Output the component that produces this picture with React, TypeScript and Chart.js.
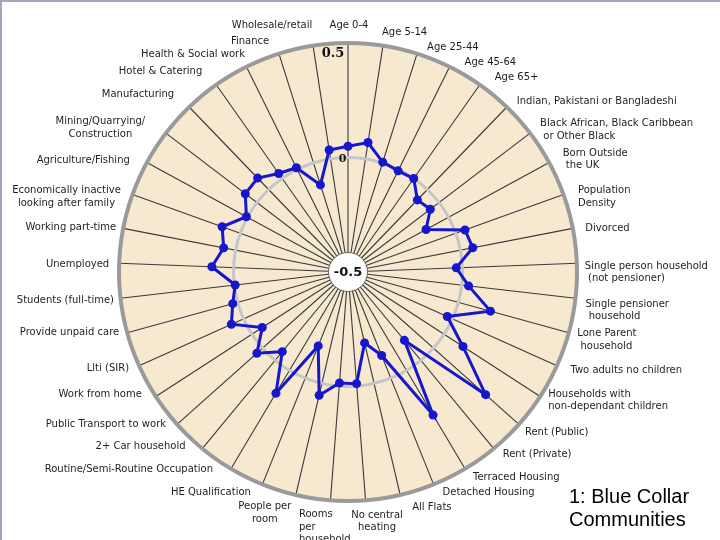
import React, { useEffect, useRef } from "react";
import { Chart, registerables } from "chart.js";

Chart.register(...registerables);

// ---- data ----
const CATEGORIES: string[][] = [
  ["Age 0-4"],
  ["Age 5-14"],
  ["Age 25-44"],
  ["Age 45-64"],
  ["Age 65+"],
  ["Indian, Pakistani or Bangladeshi"],
  ["Black African, Black Caribbean", " or Other Black"],
  ["Born Outside", " the UK"],
  ["Population", "Density"],
  ["Divorced"],
  ["Single person household", " (not pensioner)"],
  ["Single pensioner", " household"],
  ["Lone Parent", " household"],
  ["Two adults no children"],
  ["Households with", "non-dependant children"],
  ["Rent (Public)"],
  ["Rent (Private)"],
  ["Terraced Housing"],
  ["Detached Housing"],
  ["All Flats"],
  ["No central", "heating"],
  ["Rooms", "per", "household"],
  ["People per", "room"],
  ["HE Qualification"],
  ["Routine/Semi-Routine Occupation"],
  ["2+ Car household"],
  ["Public Transport to work"],
  ["Work from home"],
  ["Llti (SIR)"],
  ["Provide unpaid care"],
  ["Students (full-time)"],
  ["Unemployed"],
  ["Working part-time"],
  ["Economically inactive", "looking after family"],
  ["Agriculture/Fishing"],
  ["Mining/Quarrying/", "Construction"],
  ["Manufacturing"],
  ["Hotel & Catering"],
  ["Health & Social work"],
  ["Finance"],
  ["Wholesale/retail"],
];

const VALUES: number[] = [
  0.049, 0.072, 0.003, -0.007, -0.001, -0.063, -0.048, -0.112, 0.043, 0.055,
  -0.027, 0.03, 0.145, -0.025, 0.098, 0.305, -0.113, 0.227, -0.107, -0.182,
  -0.011, -0.014, 0.053, -0.152, 0.116, -0.049, 0.033, -0.054, 0.058, 0.022,
  -0.004, 0.095, 0.053, 0.084, 0.005, 0.064, 0.069, 0.026, 0.008, -0.101,
  0.039,
];

const TICKS: number[] = [-0.5, 0, 0.5];
const TICK_LABELS: string[] = ["-0.5", "0", "0.5"];
const TITLE: string[] = ["1: Blue Collar", "Communities"];

// ---- label layout (alignment, offset from spoke end) ----
type Align = "left" | "right" | "center";
const LABEL_LAYOUT: [Align, number, number][] = [
  ["center", 1, -18],
  ["left", -1, -13],
  ["left", 10, -6],
  ["left", 15, -4],
  ["left", 15, -7],
  ["left", 10, -6],
  ["left", 10, -3.5],
  ["left", 13.5, -3],
  ["left", 14.5, 2.5],
  ["left", 12.5, 0],
  ["left", 8, 9],
  ["left", 10, 12],
  ["left", 8.5, 7],
  ["left", 13.5, 5],
  ["left", 8, 4],
  ["left", 6, 8],
  ["left", 9, 6],
  ["left", 8, 8.5],
  ["left", 9, 8],
  ["left", 12, 12],
  ["center", 11.5, 21],
  ["left", -31.5, 27],
  ["center", -31, 18],
  ["right", -11.5, 8],
  ["right", -18, 0.5],
  ["right", -16.7, -2],
  ["right", -11, 0],
  ["right", -14, -2.5],
  ["right", -10, 2.6],
  ["right", -8, 0],
  ["right", -6.5, 2.4],
  ["right", -10, 1],
  ["right", -7, -1.4],
  ["center", -66, 2.4],
  ["right", -17, -2],
  ["center", -65.5, -5.5],
  ["right", -15, -13],
  ["right", -14, -13.7],
  ["right", -1.4, -12],
  ["left", -48, -12],
  ["left", -81.3, -20.4],
];

const radarDecor = {
  id: "radarDecor",
  beforeDatasetsDraw(chart: any) {
    const s = chart.scales.r;
    const ctx: CanvasRenderingContext2D = chart.ctx;
    const cx = s.xCenter;
    const cy = s.yCenter;
    const minV = TICKS[0];
    const midV = TICKS[1];
    const maxV = TICKS[2];
    ctx.save();
    // zero circle
    ctx.beginPath();
    ctx.arc(cx, cy, s.getDistanceFromCenterForValue(midV), 0, Math.PI * 2);
    ctx.strokeStyle = "#c6c6c6";
    ctx.lineWidth = 3;
    ctx.stroke();
    // outer ring
    ctx.beginPath();
    ctx.arc(cx, cy, s.getDistanceFromCenterForValue(maxV), 0, Math.PI * 2);
    ctx.strokeStyle = "#9a9a9a";
    ctx.lineWidth = 4;
    ctx.stroke();
    // centre disc
    ctx.beginPath();
    ctx.arc(cx, cy, 19.5, 0, Math.PI * 2);
    ctx.fillStyle = "#ffffff";
    ctx.fill();
    ctx.strokeStyle = "#666";
    ctx.lineWidth = 1;
    ctx.stroke();
    // tick labels
    ctx.fillStyle = "#111";
    ctx.textAlign = "center";
    ctx.textBaseline = "middle";
    ctx.font = "bold 13px 'DejaVu Sans'";
    ctx.fillText(TICK_LABELS[0], cx, cy + 1 + s.getDistanceFromCenterForValue(minV));
    ctx.font = "bold 11px 'DejaVu Serif'";
    ctx.fillText(TICK_LABELS[1], cx - 5.5, cy - s.getDistanceFromCenterForValue(midV) + 2);
    ctx.font = "bold 13px 'DejaVu Serif'";
    ctx.fillText(TICK_LABELS[2], cx - 15, cy - s.getDistanceFromCenterForValue(maxV) + 11);
    ctx.restore();
  },
  afterDraw(chart: any) {
    const s = chart.scales.r;
    const ctx: CanvasRenderingContext2D = chart.ctx;
    ctx.save();
    ctx.font = "10px 'DejaVu Sans'";
    ctx.fillStyle = "#1e1e1e";
    ctx.textBaseline = "middle";
    const lh = 12.5;
    CATEGORIES.forEach((lines, i) => {
      const p = s.getPointPosition(i, s.drawingArea);
      const [align, dx, dy] = LABEL_LAYOUT[i];
      ctx.textAlign = align;
      const x = p.x + dx;
      const yc = p.y + dy;
      lines.forEach((ln, k) => {
        ctx.fillText(ln, x, yc + (k - (lines.length - 1) / 2) * lh);
      });
    });
    ctx.restore();
  },
};

export default function App() {
  const ref = useRef<HTMLCanvasElement | null>(null);

  useEffect(() => {
    if (!ref.current) return;
    const chart = new Chart(ref.current, {
      type: "radar",
      data: {
        labels: CATEGORIES.map((l) => l.join(" ")),
        datasets: [
          {
            data: VALUES,
            borderColor: "#1616cc",
            backgroundColor: "#1616cc",
            borderWidth: 3,
            pointRadius: 4.5,
            pointBackgroundColor: "#1616cc",
            pointBorderColor: "#1616cc",
            pointBorderWidth: 0,
            fill: false,
            tension: 0,
          },
        ],
      },
      options: {
        responsive: false,
        animation: false,
        events: [],
        layout: { padding: { left: 119, right: 143, top: 43, bottom: 39 } },
        plugins: { legend: { display: false }, tooltip: { enabled: false } },
        scales: {
          r: {
            min: TICKS[0],
            max: TICKS[2],
            backgroundColor: "#f7e9d0",
            ticks: { display: false, stepSize: 0.5 },
            grid: { display: false },
            angleLines: { display: true, color: "#3a3a3a", lineWidth: 1.1 },
            pointLabels: { display: false },
          },
        },
      },
      plugins: [radarDecor],
    });
    return () => chart.destroy();
  }, []);

  return (
    <div
      style={{
        position: "absolute",
        left: 0,
        top: 0,
        width: 720,
        height: 540,
        background: "#ffffff",
        overflow: "hidden",
      }}
    >
      <canvas ref={ref} width={720} height={540} style={{ position: "absolute", left: 0, top: 0 }} />
      <div style={{ position: "absolute", left: 0, top: 0, width: 720, height: 2, background: "#a6a3ba" }} />
      <div style={{ position: "absolute", left: 0, top: 0, width: 2, height: 540, background: "#a6a3ba" }} />
      <div
        style={{
          position: "absolute",
          left: 569,
          top: 485,
          fontFamily: "'Liberation Sans', Arial, sans-serif",
          fontSize: 20,
          lineHeight: "23px",
          color: "#000",
        }}
      >
        {TITLE.map((t, i) => (
          <div key={i}>{t}</div>
        ))}
      </div>
    </div>
  );
}
